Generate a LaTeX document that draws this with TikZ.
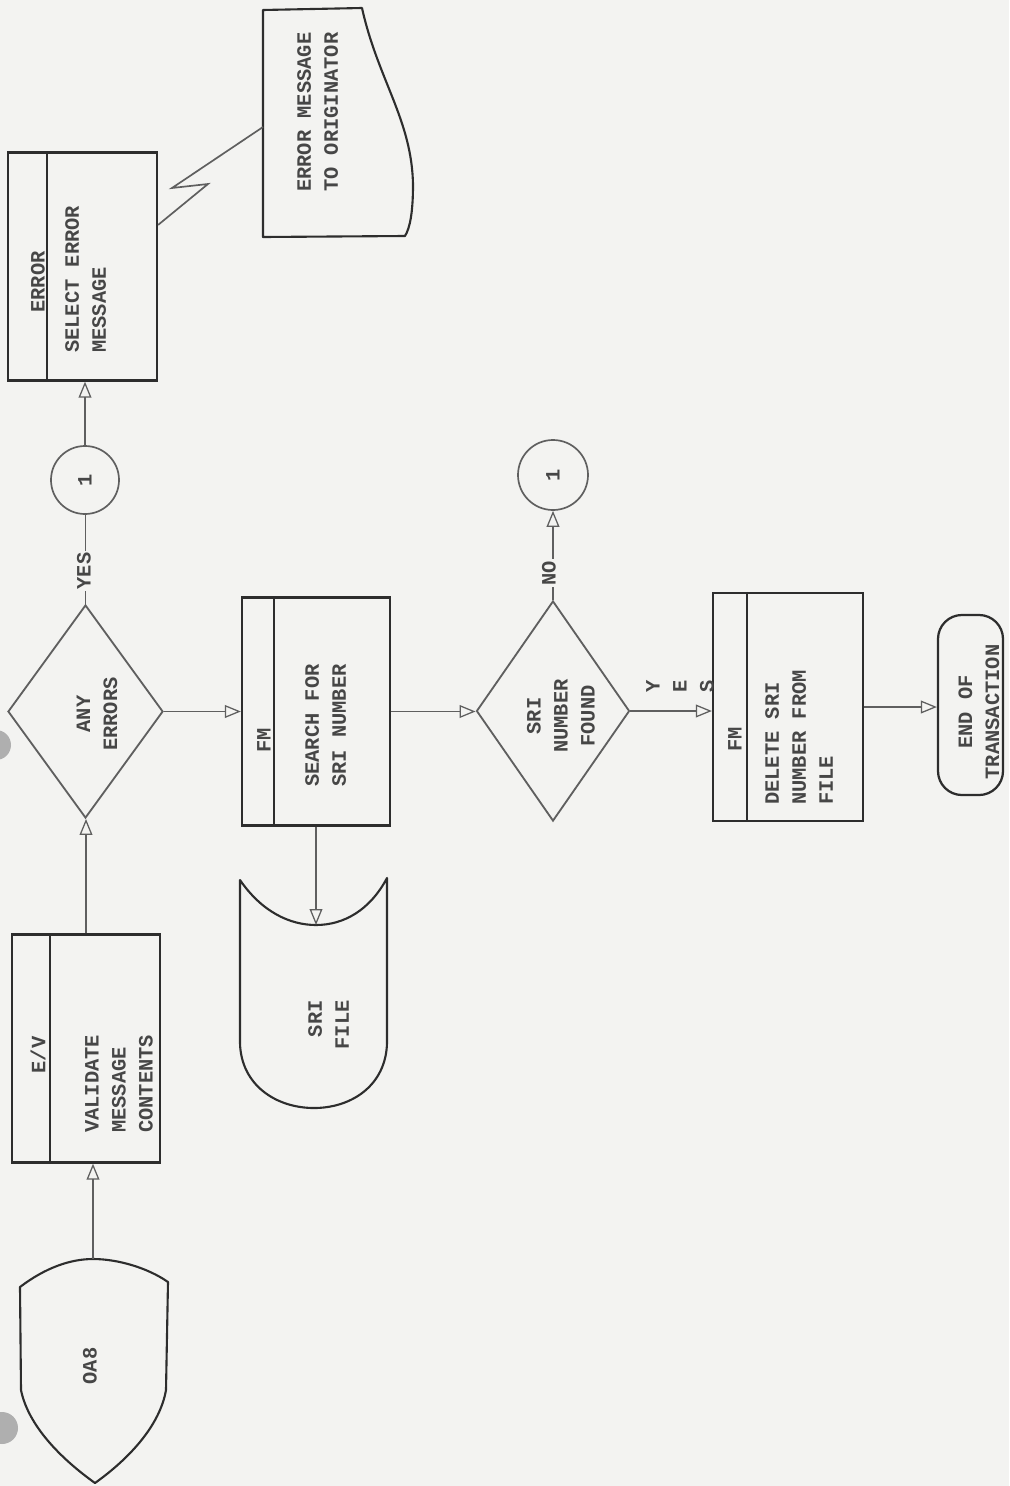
\documentclass[tikz,border=0pt]{standalone}
\usepackage{fontspec}
\setmainfont{Liberation Mono}
\usetikzlibrary{shapes.geometric,arrows.meta,calc}
\definecolor{paper}{RGB}{243,243,241}
\definecolor{ink}{RGB}{45,45,45}
\definecolor{inkl}{RGB}{95,95,95}
\definecolor{txtc}{RGB}{70,70,70}
\definecolor{holec}{RGB}{175,175,175}
\begin{document}
\begin{tikzpicture}[x=0.025cm,y=-0.025cm,
  txt/.style={rotate=90,inner sep=0pt,text=txtc,font=\fontsize{14.5}{19.2}\selectfont\bfseries},
  procbox/.style={draw=ink,line width=1.6pt,minimum width=3.7cm,minimum height=5.7cm,inner sep=0pt},
  dec/.style={diamond,draw=inkl,line width=1.3pt,inner sep=0pt},
  conn/.style={circle,draw=inkl,line width=1.2pt,minimum size=1.7cm,inner sep=0pt},
  flow/.style={draw=inkl,line width=1.2pt},
  arr/.style={flow,-{Triangle[open,length=0.4cm,width=0.32cm,line width=0.9pt]}},
  shapeline/.style={draw=ink,line width=1.5pt,line join=round},
  divider/.style={draw=ink,line width=1.6pt},
  lbl/.style={txt,fill=paper,inner sep=1pt}
]
\fill[paper] (0,0) rectangle (1009,1486);
\useasboundingbox (0,0) rectangle (1009,1486);
% hole punches of the scanned sheet
\fill[holec] (-4,745) circle[radius=15];
\fill[holec] (2,1428) circle[radius=16];

% OA8 input shape
\draw[shapeline] (20,1287) .. controls (45,1268) and (70,1259) .. (93,1259)
  .. controls (118,1259) and (148,1268) .. (168,1282) -- (166,1390)
  .. controls (160,1425) and (130,1458) .. (95,1483)
  .. controls (60,1458) and (28,1425) .. (21,1390) -- cycle;
\node[txt] (oa8) at (90,1366) {OA8};
\coordinate (oa8top) at (93,1259);

% E/V validate box
\node[procbox] (val) at (86,1048.5) {};
\draw[divider] ([xshift=0.975cm]val.north west) -- ([xshift=0.975cm]val.south west);
\node[txt] (valh) at (38,1055) {E/V};
\node[txt,anchor=north west,align=left] (valb) at (85,1133) {VALIDATE\\MESSAGE\\CONTENTS};

% ANY ERRORS decision
\node[dec,minimum width=3.875cm,minimum height=5.325cm] (anyerr) at (85.5,711.5) {};
\node[txt,align=center] (anyerrt) at (97,714) {ANY\\ERRORS};

% connector 1 (top)
\node[conn] (c1) at (85,480) {};
\node[txt] (c1t) at (85,480) {1};

% ERROR box
\node[procbox,minimum width=3.725cm] (errbox) at (82.5,266.5) {};
\draw[divider] ([xshift=1.0cm]errbox.north west) -- ([xshift=1.0cm]errbox.south west);
\node[txt] (errh) at (38,282) {ERROR};
\node[txt,anchor=north west,align=left] (errb) at (65,353) {SELECT ERROR\\MESSAGE};

% document: error message to originator
\draw[shapeline] (263,10) -- (362,8) .. controls (378,80) and (412,120) .. (413,185)
  .. controls (413,212) and (410,228) .. (405,236) -- (263,237) -- cycle;
\node[txt,anchor=north west,align=left] (doct) at (297,192) {ERROR MESSAGE\\TO ORIGINATOR};
\coordinate (docin) at (263,127);
\coordinate (lz1) at (208,184);
\coordinate (lz2) at (172,188);

% FM search box
\node[procbox] (srch) at (316,711.5) {};
\draw[divider] ([xshift=0.825cm]srch.north west) -- ([xshift=0.825cm]srch.south west);
\node[txt] (srchh) at (264,740) {FM};
\node[txt,anchor=north west,align=left] (srchb) at (305,787) {SEARCH FOR\\SRI NUMBER};

% SRI file storage
\draw[shapeline] (240,880) .. controls (262,912) and (290,925) .. (316,925)
  .. controls (344,925) and (370,910) .. (387,878) -- (387,1043)
  .. controls (386,1085) and (352,1108) .. (314,1108)
  .. controls (276,1108) and (241,1085) .. (240,1043) -- cycle;
\coordinate (filetop) at (316,925);
\node[txt,anchor=north east,align=right] (filet) at (308,1000) {SRI\\FILE};

% SRI NUMBER FOUND decision
\node[dec,minimum width=3.825cm,minimum height=5.5cm] (fnd) at (553,711) {};
\node[txt,align=center] (fndt) at (561,716) {SRI\\NUMBER\\FOUND};

% connector 1 (right)
\node[conn,minimum size=1.75cm] (c2) at (553,475) {};
\node[txt] (c2t) at (553,475) {1};

% FM delete box
\node[procbox,minimum width=3.75cm] (del) at (788,707) {};
\draw[divider] ([xshift=0.875cm]del.north west) -- ([xshift=0.875cm]del.south west);
\node[txt] (delh) at (735,739) {FM};
\node[txt,anchor=north west,align=left] (delb) at (765,805) {DELETE SRI\\NUMBER FROM\\FILE};

% terminator
\node[draw=ink,line width=1.6pt,rounded corners=0.6cm,minimum width=1.625cm,minimum height=4.5cm] (endt) at (970.5,705) {};
\node[txt,align=center] (endtx) at (979,712) {END OF\\TRANSACTION};

% connectors
\draw[arr] (oa8top) -- (oa8top |- val.south);
\draw[arr] (val.north) -- (val.north |- anyerr.south);
\draw[flow] (anyerr.north) -- (anyerr.north |- c1.south);
\node[lbl] (yes1) at (84,571) {YES};
\draw[arr] (c1.north) -- (c1.north |- errbox.south);
\draw[flow] ([yshift=1.04cm]errbox.east) -- (lz1) -- (lz2) -- (docin);
\draw[arr] (anyerr.east) -- (anyerr.east -| srch.west);
\draw[arr] (srch.south) -- (srch.south |- filetop);
\draw[arr] (srch.east) -- (srch.east -| fnd.west);
\draw[arr] (fnd.north) -- (fnd.north |- c2.south);
\node[lbl] (no) at (549,573) {NO};
\draw[arr] (fnd.east) -- (fnd.east -| del.west);
\node[txt,align=center] (yes2) at (680,686) {Y\\E\\S};
\draw[arr] (del.east) -- (del.east -| endt.west);
\end{tikzpicture}
\end{document}
